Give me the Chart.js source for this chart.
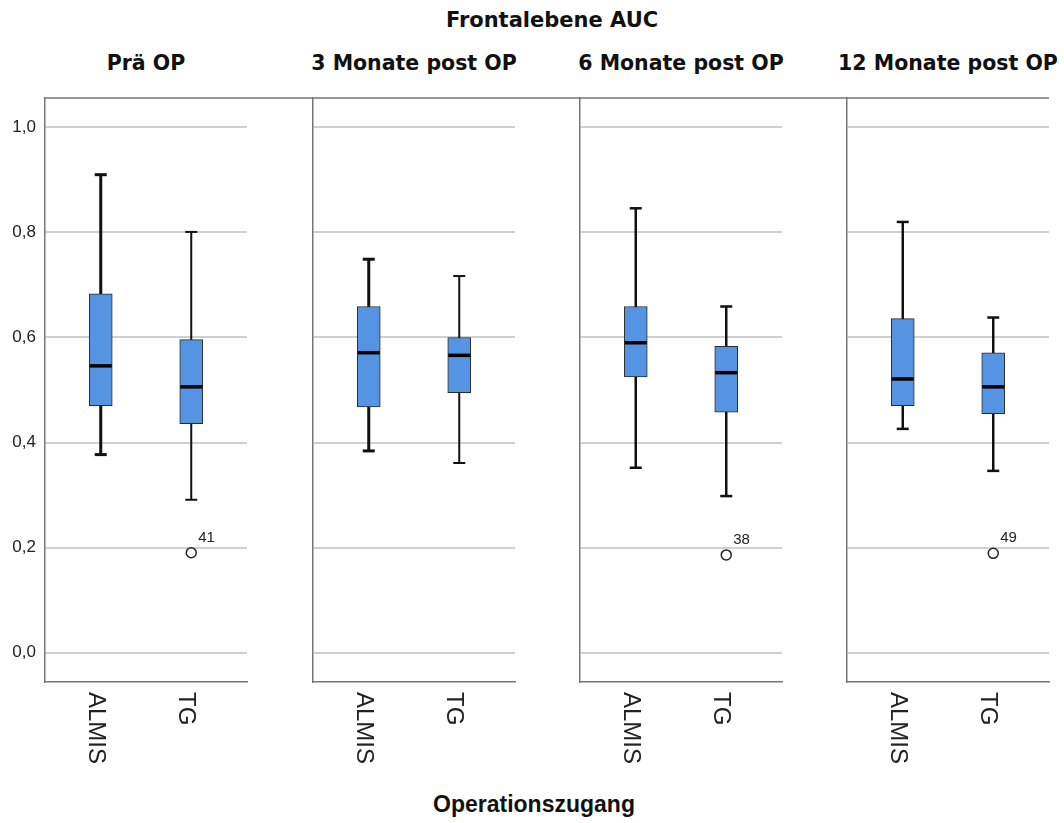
<!DOCTYPE html>
<html>
<head>
<meta charset="utf-8">
<script src="https://cdn.jsdelivr.net/npm/chart.js@4.4.1/dist/chart.umd.min.js"></script>
<style>
  body { margin: 0; background: #fff; }
  #wrap { position: relative; width: 1064px; height: 823px; background: #fff; overflow: hidden; }
  .ttl { position: absolute; text-align: center; white-space: nowrap; color: #111; }
  .main { font: bold 21px "DejaVu Sans", sans-serif; line-height: 24px; }
  .panel { font: bold 20.5px "DejaVu Sans", sans-serif; line-height: 24px; }
  .xt { font: bold 23px "Liberation Sans", Arial, sans-serif; line-height: 26px; }
  .box { position: absolute; }
</style>
</head>
<body>
<div id="wrap">
  <div class="ttl main" style="left:352px; top:8px; width:400px;">Frontalebene AUC</div>
  <div class="ttl xt" style="left:334px; top:791px; width:400px;">Operationszugang</div>
</div>
<script>
// Daten
var zeitpunkte = ['Prä OP', '3 Monate post OP', '6 Monate post OP', '12 Monate post OP'];
var gruppen = ['ALMIS', 'TG'];
var whiskerUnten = [[0.377, 0.291], [0.384, 0.361], [0.352, 0.298], [0.426, 0.346]];
var quartil1 = [[0.470, 0.436], [0.468, 0.495], [0.525, 0.458], [0.470, 0.455]];
var mediane = [[0.546, 0.506], [0.571, 0.566], [0.590, 0.533], [0.521, 0.506]];
var quartil3 = [[0.683, 0.596], [0.659, 0.600], [0.659, 0.583], [0.636, 0.571]];
var whiskerOben = [[0.910, 0.801], [0.749, 0.717], [0.846, 0.659], [0.820, 0.638]];
var ausreisser = [[null, 0.190], [null, null], [null, 0.186], [null, 0.189]];
var ausreisserNr = [[null, '41'], [null, null], [null, '38'], [null, '49']];
var yTicks = [0.0, 0.2, 0.4, 0.6, 0.8, 1.0];

// Layout
var panelLinks = [45, 313, 580, 847];
var whiskerBreite = [[3, 2], [3, 2], [2.5, 2.5], [2.5, 2.5]];
var achsenFarbe = '#777';

var wrap = document.getElementById('wrap');

function makePlugin(p) {
    return {
        id: 'boxTeile' + p,
        beforeDatasetsDraw: function(chart) {
            var ctx = chart.ctx, xs = chart.scales.x, ys = chart.scales.y;
            ctx.save();
            ctx.strokeStyle = '#111';
            gruppen.forEach(function(g, i) {
                var px = xs.getPixelForValue(i);
                ctx.lineWidth = whiskerBreite[p][i];
                ctx.beginPath();
                ctx.moveTo(px, ys.getPixelForValue(whiskerUnten[p][i]));
                ctx.lineTo(px, ys.getPixelForValue(whiskerOben[p][i]));
                ctx.stroke();
            });
            ctx.restore();
        },
        afterDatasetsDraw: function(chart) {
            var ctx = chart.ctx, xs = chart.scales.x, ys = chart.scales.y;
            ctx.save();
            gruppen.forEach(function(g, i) {
                var px = xs.getPixelForValue(i);
                ctx.strokeStyle = '#111';
                ctx.lineWidth = whiskerBreite[p][i];
                [whiskerUnten[p][i], whiskerOben[p][i]].forEach(function(v) {
                    var py = ys.getPixelForValue(v);
                    ctx.beginPath();
                    ctx.moveTo(px - 6, py);
                    ctx.lineTo(px + 6, py);
                    ctx.stroke();
                });
                ctx.lineWidth = 3.5;
                ctx.strokeStyle = '#000';
                var pm = ys.getPixelForValue(mediane[p][i]);
                ctx.beginPath();
                ctx.moveTo(px - 11, pm);
                ctx.lineTo(px + 11, pm);
                ctx.stroke();
                if (ausreisser[p][i] !== null) {
                    ctx.fillStyle = '#222';
                    ctx.font = '15px "Liberation Sans", Arial, sans-serif';
                    ctx.textAlign = 'left';
                    ctx.textBaseline = 'alphabetic';
                    ctx.fillText(ausreisserNr[p][i], px + 7, ys.getPixelForValue(ausreisser[p][i]) - 11);
                }
            });
            ctx.restore();
        },
        afterDraw: function(chart) {
            var ctx = chart.ctx, xs = chart.scales.x, a = chart.chartArea;
            ctx.save();
            // obere Linie durchgehend bis zum naechsten Panel
            ctx.strokeStyle = achsenFarbe;
            ctx.lineWidth = 1.5;
            ctx.beginPath();
            ctx.moveTo(a.left - 0.75, a.top);
            ctx.lineTo(p < 3 ? chart.width : a.right, a.top);
            ctx.stroke();
            // gedrehte Kategorien
            ctx.fillStyle = '#222';
            ctx.font = '24px "Liberation Sans", Arial, sans-serif';
            ctx.textAlign = 'left';
            ctx.textBaseline = 'alphabetic';
            gruppen.forEach(function(g, i) {
                var px = xs.getPixelForValue(i);
                ctx.save();
                ctx.translate(px - 12, a.bottom + 10);
                ctx.rotate(Math.PI / 2);
                ctx.fillText(g, 0, 0);
                ctx.restore();
            });
            ctx.restore();
        }
    };
}

zeitpunkte.forEach(function(name, p) {
    var links = panelLinks[p] - 45;
    var breite = p < 3 ? panelLinks[p + 1] - panelLinks[p] + 45 : 1064 - links;

    var t = document.createElement('div');
    t.className = 'ttl panel';
    t.style.left = (panelLinks[p] + 101 - 150) + 'px';
    t.style.top = '51px';
    t.style.width = '300px';
    t.textContent = name;
    wrap.appendChild(t);

    var box = document.createElement('div');
    box.className = 'box';
    box.style.left = links + 'px';
    box.style.top = '90px';
    box.style.width = breite + 'px';
    box.style.height = '692px';
    var cv = document.createElement('canvas');
    box.appendChild(cv);
    wrap.appendChild(box);

    var punkte = [];
    ausreisser[p].forEach(function(v, i) {
        if (v !== null) punkte.push({x: i, y: v});
    });

    new Chart(cv.getContext('2d'), {
        type: 'bar',
        data: {
            datasets: [{
                type: 'bar',
                data: gruppen.map(function(g, i) { return {x: i, y: [quartil1[p][i], quartil3[p][i]]}; }),
                backgroundColor: '#5594e2',
                borderColor: '#2b2b2b',
                borderWidth: 1,
                borderSkipped: false,
                barThickness: 23
            }, {
                type: 'scatter',
                data: punkte,
                pointRadius: 5,
                pointBackgroundColor: '#fff',
                pointBorderColor: '#222',
                pointBorderWidth: 1.5
            }]
        },
        options: {
            responsive: true,
            maintainAspectRatio: false,
            animation: false,
            layout: { padding: { top: 8, right: breite - 247, left: 0, bottom: 0 } },
            plugins: { legend: { display: false }, tooltip: { enabled: false } },
            scales: {
                x: {
                    type: 'linear',
                    min: -0.616,
                    max: 1.616,
                    offset: false,
                    grid: { display: false },
                    ticks: { display: false },
                    border: { display: true, color: achsenFarbe, width: 1.5 },
                    afterFit: function(s) { s.height = 100; s.paddingLeft = 0; s.paddingRight = 0; }
                },
                y: {
                    min: -0.056,
                    max: 1.056,
                    afterBuildTicks: function(s) { s.ticks = yTicks.map(function(v) { return {value: v}; }); },
                    grid: { color: '#d0d0d0', lineWidth: 2, drawTicks: false },
                    border: { display: true, color: achsenFarbe, width: 1.5 },
                    ticks: {
                        display: p === 0,
                        padding: 9,
                        color: '#222',
                        font: { family: '"Liberation Sans", Arial, sans-serif', size: 17 },
                        callback: function(v) { return v.toFixed(1).replace('.', ','); }
                    },
                    afterFit: function(s) { s.width = 45; s.paddingTop = 0; s.paddingBottom = 0; }
                }
            }
        },
        plugins: [makePlugin(p)]
    });
});
</script>
</body>
</html>
